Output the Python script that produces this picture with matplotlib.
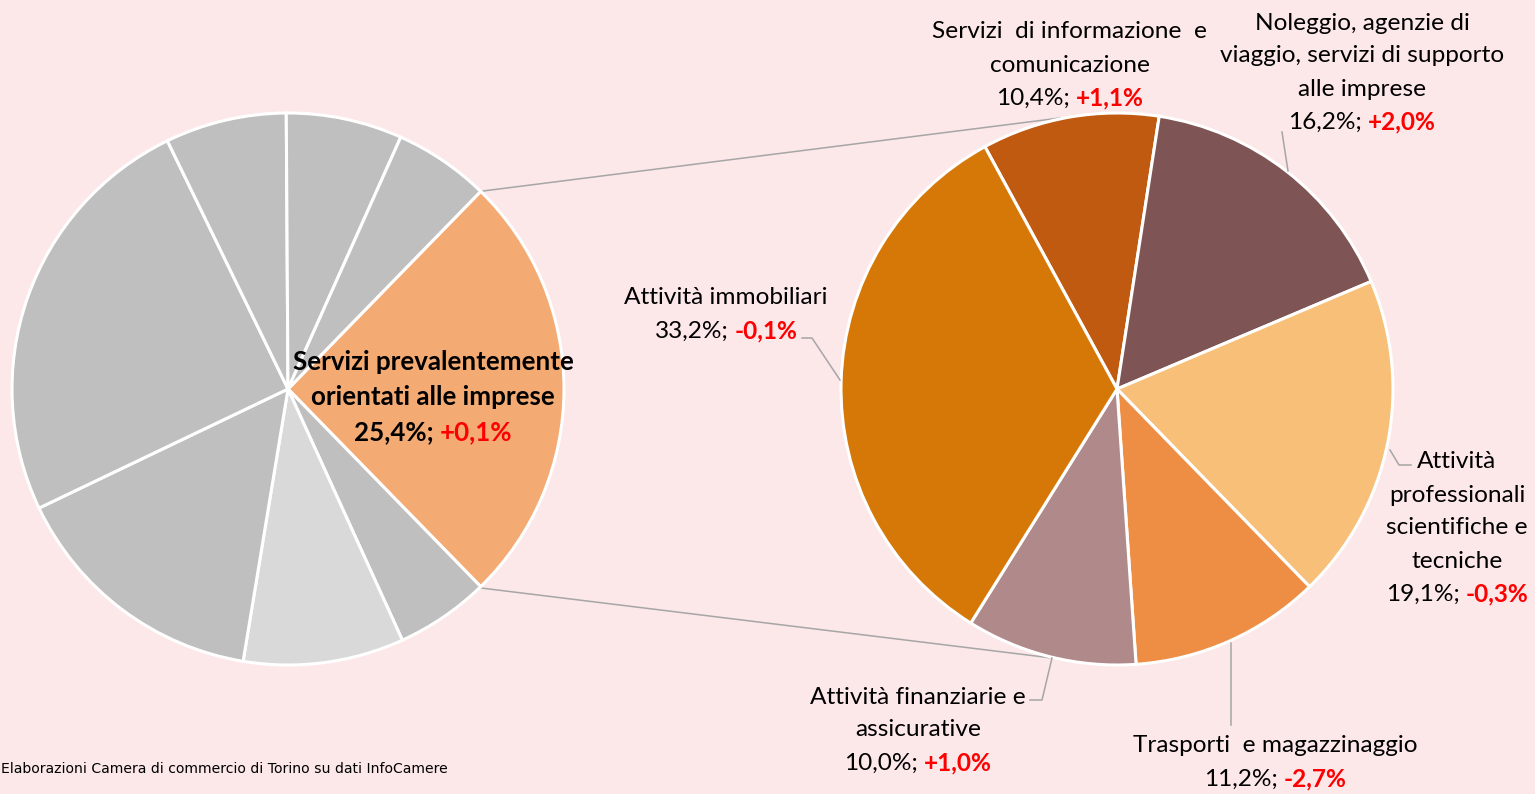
import matplotlib
matplotlib.use("Agg")
import matplotlib.pyplot as plt

# ---------------- data ----------------
left_values = [25.4, 5.5, 9.4, 15.3, 24.9, 7.1, 6.8, 5.6]
left_title = ["Servizi prevalentemente", "orientati alle imprese"]
left_share = "25,4%;"
left_change = "+0,1%"

right_names = [
    ["Servizi  di informazione  e", "comunicazione"],
    ["Noleggio, agenzie di", "viaggio, servizi di supporto", "alle imprese"],
    ["Attività", "professionali", "scientifiche e", "tecniche"],
    ["Trasporti  e magazzinaggio"],
    ["Attività finanziarie e", "assicurative"],
    ["Attività immobiliari"],
]
right_values = [10.4, 16.2, 19.1, 11.2, 10.0, 33.2]
right_changes = ["+1,1%", "+2,0%", "-0,3%", "-2,7%", "+1,0%", "-0,1%"]
source_text = "Elaborazioni Camera di commercio di Torino su dati InfoCamere"

# ---------------- style ----------------
BG = "#fce7e9"
left_colors = ["#f4aa73", "#bfbfbf", "#d9d9d9", "#bfbfbf", "#bfbfbf", "#bfbfbf", "#bfbfbf", "#bfbfbf"]
right_colors = ["#c05a11", "#7f5454", "#f8bf78", "#ee8e44", "#b08a8a", "#d67807"]
FONT = ["Lato", "DejaVu Sans"]
FS = 17.6
LINE_H = 33

W, H = 1535, 794
fig = plt.figure(figsize=(W / 100, H / 100), dpi=100, facecolor=BG)
ax = fig.add_axes([0, 0, 1, 1])
ax.set_facecolor(BG)

def Y(y):
    return H - y

R = 276
lc = (288, Y(389))
rc = (1117, Y(389))

ax.pie(left_values, colors=left_colors, startangle=left_values[0] / 100 * 360 / 2,
       counterclock=False, center=lc, radius=R, frame=True,
       wedgeprops=dict(edgecolor="white", linewidth=2.2))
ax.pie(right_values, colors=right_colors, startangle=118.6,
       counterclock=False, center=rc, radius=R, frame=True,
       wedgeprops=dict(edgecolor="white", linewidth=2.2))

ax.set_xlim(0, W)
ax.set_ylim(0, H)
ax.set_aspect("equal")
ax.axis("off")

# connector lines between the pies
GRAY = "#a6a6a6"
ax.plot([483, 1060], [Y(191), Y(118)], color=GRAY, lw=1.1, zorder=0.5)
ax.plot([481, 1052], [Y(588), Y(658)], color=GRAY, lw=1.1, zorder=0.5)

# leader lines
ax.plot([802, 812, 840], [Y(338), Y(338), Y(380)], color=GRAY, lw=1.1)
ax.plot([1288, 1282], [Y(171), Y(132)], color=GRAY, lw=1.1)
ax.plot([1390, 1399, 1411], [Y(450), Y(465), Y(465)], color=GRAY, lw=1.1)
ax.plot([1231, 1231], [Y(643), Y(725)], color=GRAY, lw=1.1)
ax.plot([1052, 1042, 1030], [Y(658), Y(700), Y(700)], color=GRAY, lw=1.1)

fig.canvas.draw()
renderer = fig.canvas.get_renderer()

def rich_line(x, y, parts, size=FS, gap=6):
    texts = []
    for s, color, weight in parts:
        t = ax.text(0, Y(y), s, color=color, fontweight=weight, fontsize=size,
                    ha="left", va="center", family=FONT)
        texts.append(t)
    widths = [t.get_window_extent(renderer).width for t in texts]
    total = sum(widths) + gap * (len(texts) - 1)
    cur = x - total / 2
    for t, w in zip(texts, widths):
        t.set_x(cur)
        cur += w + gap

def block(x, y_first, lines, share, change, size=FS, bold=False, lh=LINE_H):
    w = "bold" if bold else "normal"
    for i, ln in enumerate(lines):
        rich_line(x, y_first + i * lh, [(ln, "black", w)], size=size)
    rich_line(x, y_first + len(lines) * lh,
              [(share, "black", w), (change, "#ff0000", "bold")], size=size)

def pct(v):
    return f"{v:.1f}".replace(".", ",") + "%;"

# left pie label
block(433, 362, left_title, left_share, left_change, size=18.6, bold=True, lh=35)

# right pie labels
label_pos = [(1070, 32), (1362, 23), (1457, 462), (1275, 746), (918, 697), (726, 298)]
for (x, y), names, v, ch in zip(label_pos, right_names, right_values, right_changes):
    block(x, y, names, pct(v), ch)

ax.text(1, Y(769), source_text, ha="left", va="center", fontsize=10.1,
        family=["DejaVu Sans"], color="black")

fig.savefig("out.png", dpi=100, facecolor=BG)
